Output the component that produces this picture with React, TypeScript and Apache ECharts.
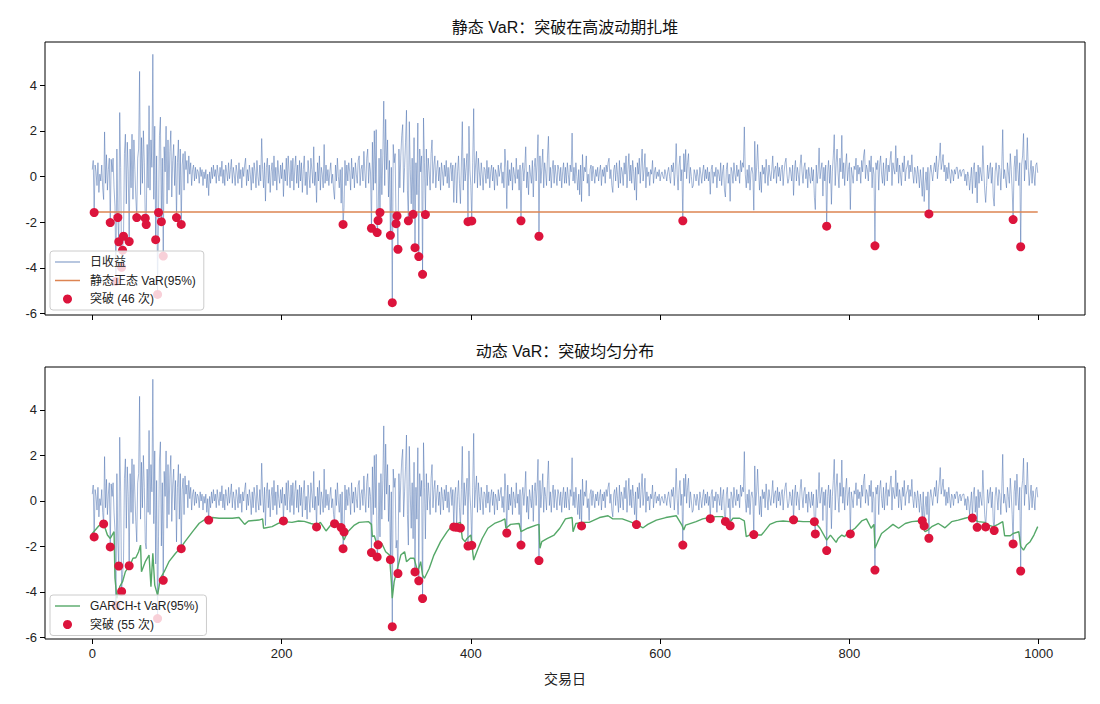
import React, { useEffect, useRef } from 'react';
import * as echarts from 'echarts';

// Daily returns, 10 trading days per row (row k = days 10k .. 10k+9)
const RETURN_ROWS: number[][] = [
  [0.3, 0.7, -1.58, 0.5, 0.2, -0.4, 0.6, -0.7, 0.1, -0.2],
  [0.5, -0.5, -1.01, 1.95, -0.3, 0.95, -0.6, 0.3, 0.8, -2.02],
  [0.75, 0.2, 0.8, -0.5, -1.3, -4.6, 1.2, -1.8, -2.86, 2.8],
  [0.4, -3.98, -3.23, -2.62, 1.0, 1.85, -1.2, 1.5, 0.2, -2.85],
  [1.2, -0.5, 1.85, -1.0, 1.6, 0.3, -0.9, -1.8, 0.8, 1.2],
  [4.6, -0.8, 1.7, -0.3, 2.0, 0.6, -1.83, -2.11, 1.4, -0.5],
  [3.1, -0.6, 1.6, 0.4, 5.35, -1.0, 2.2, -2.77, 0.9, -5.17],
  [-1.58, 1.8, 2.6, -1.98, 0.8, -3.49, 1.3, 0.2, 2.2, -1.2],
  [1.6, -0.6, 1.1, 2.0, -0.9, 0.7, 1.4, -0.4, 0.9, -1.8],
  [0.6, 1.6, -0.8, 1.2, -2.1, 0.5, 1.0, -0.6, 1.1, 0.3],
  [0.7, -0.3, 0.9, 0.1, 0.6, -0.4, 0.3, 0.5, -0.2, 0.4],
  [-0.1, 0.3, 0.2, -0.3, 0.4, 0.0, 0.3, -0.4, 0.2, -0.1],
  [0.3, -0.5, 0.1, -0.84, 0.2, -0.3, 0.4, -0.1, 0.5, 0.0],
  [0.3, -0.3, 0.5, 0.1, -0.2, 0.4, 0.0, 0.67, -0.3, 0.3],
  [-0.4, 0.5, 0.2, -0.2, 0.6, -0.1, 0.3, 0.75, -0.3, 0.4],
  [0.1, -0.4, 0.5, 0.2, -0.3, 0.6, -0.1, 0.3, -0.5, 0.4],
  [0.0, 0.5, 0.8, -0.4, 0.3, -0.2, 0.5, 0.1, -0.6, 0.4],
  [-0.3, 0.6, 0.2, -0.5, 0.7, 0.0, -0.4, 0.5, -0.2, 1.66],
  [0.3, -0.5, 0.6, -1.08, 0.4, 0.8, -0.3, 0.5, -0.7, 0.2],
  [0.6, -0.4, 0.9, -0.2, 0.4, -0.6, 0.7, 0.1, -0.3, 0.5],
  [-0.1, 0.6, -0.88, 0.3, -0.2, 0.8, -0.4, 0.9, 0.2, -0.5],
  [0.7, -0.2, 0.8, -0.6, 0.4, 0.9, -0.3, 0.5, -0.5, 0.7],
  [-0.2, 0.6, -0.7, 0.3, 0.9, -0.4, 0.2, -0.8, 0.7, 0.1],
  [-0.5, 0.8, 0.3, -0.3, 1.3, -0.4, 0.2, -1.14, 0.6, -0.2],
  [0.9, -0.6, 0.4, 0.1, -0.5, 1.4, -0.3, 0.5, -0.2, 0.3],
  [-0.4, 0.2, 0.6, -0.3, 0.1, -0.6, -1.0, 0.5, -0.2, 0.8],
  [0.0, -0.5, 0.3, -1.17, 0.4, -2.1, -1.36, 0.7, -0.4, 0.5],
  [-0.2, 0.6, 0.2, -0.6, 0.8, -0.1, 0.4, -0.5, 0.6, 0.1],
  [-0.3, 0.7, 0.9, -0.4, 0.3, 0.5, -0.2, 1.1, 0.2, -0.5],
  [0.8, 1.2, -0.3, 0.6, 0.2, -2.27, 1.5, -0.6, 2.0, -0.3],
  [2.05, -2.46, -1.93, 0.8, -1.58, 1.2, -0.8, 0.9, 3.3, -0.4],
  [2.5, 0.3, 1.6, -0.9, 0.7, -2.58, 0.4, -5.53, 1.4, 0.6],
  [1.0, -2.07, -1.73, -3.19, 1.2, -0.5, 0.9, 1.8, 2.27, -0.7],
  [0.4, 1.5, 2.9, -0.6, -1.94, 2.4, 0.3, -1.2, 0.8, -1.66],
  [1.7, -3.12, 0.6, -0.8, 2.34, -3.51, 1.2, 0.2, 0.9, -4.29],
  [2.56, 0.6, -1.67, 1.2, -0.4, 0.8, 0.2, -0.6, 1.0, 1.6],
  [-0.3, 0.5, 0.9, -0.5, 0.3, 0.7, -0.2, 0.4, -0.6, 0.6],
  [0.2, -0.4, 0.5, 0.0, 0.7, -0.3, 0.4, -0.5, 0.3, 0.6],
  [-0.2, 0.5, -1.14, 0.3, 0.6, -1.16, 0.2, 0.9, -0.3, -1.19],
  [0.5, 2.4, -0.6, 0.8, -0.2, 0.4, 1.0, -1.98, 2.2, 0.3],
  [-0.4, -1.95, 0.6, 2.97, -0.3, 0.5, 1.1, -0.5, 0.8, 0.2],
  [-0.4, 0.6, 0.1, -0.6, 0.4, 0.3, -0.3, 0.7, -0.1, 0.4],
  [-0.5, 0.2, 0.5, -0.2, 0.4, -0.6, 0.3, 0.1, -0.4, 0.5],
  [0.0, 0.3, 0.6, -0.3, 0.2, -0.5, 1.2, 0.4, -1.41, 0.7],
  [-0.4, 0.3, -0.2, 0.6, -0.6, 0.4, 0.1, -0.3, 0.8, -0.1],
  [0.3, -0.6, 0.5, -1.94, 0.2, 0.6, -0.2, 0.4, 1.3, -0.5],
  [0.2, -0.8, 0.5, 0.1, -0.3, 0.7, -0.9, 0.4, 0.8, -0.2],
  [0.6, 1.83, -2.62, 0.9, -0.3, 0.4, 1.2, -0.5, 0.6, 0.2],
  [-0.4, 0.9, 1.76, -0.2, 0.4, -0.5, 0.3, 0.7, -0.3, 0.5],
  [0.1, -0.4, 0.5, 0.3, -0.2, 0.4, -0.5, 0.2, 0.6, -0.3],
  [0.4, -0.3, 0.6, 0.1, -0.4, 0.5, 0.2, 1.9, -0.2, 0.4],
  [-0.3, 0.6, 0.0, -0.6, 0.3, -0.8, 0.5, -1.1, 0.96, -0.2],
  [0.4, 0.2, 0.9, -0.3, 0.1, -0.86, 0.3, 0.5, -0.2, 0.45],
  [0.1, -0.3, 0.3, 0.0, 0.4, -0.2, 0.2, 0.5, -0.4, 0.3],
  [0.0, 0.4, -0.3, 0.5, 0.2, 0.6, 0.8, -0.1, 0.3, -0.4],
  [-0.7, 0.3, 0.5, -0.2, 0.6, 0.1, -0.5, 0.7, -0.3, 0.4],
  [0.2, -0.4, 0.6, 0.1, 0.9, -0.5, 0.3, 1.0, -0.2, 0.5],
  [-0.3, 0.7, 0.2, -0.6, 0.4, -1.04, 0.6, 0.1, 0.8, -0.3],
  [0.5, 1.2, -0.2, 0.3, 1.0, -0.5, 0.4, 0.0, 0.2, -0.4],
  [0.3, 0.1, 0.7, -0.3, 0.2, 0.4, -0.1, 0.2, 0.0, 0.3],
  [-0.2, 0.1, 0.2, 0.0, -0.1, 0.3, 0.1, -0.2, 0.2, 0.4],
  [0.0, -0.3, 0.5, 0.2, 0.6, -0.4, 0.3, 1.44, 0.1, -0.6],
  [0.45, 0.9, -0.2, 0.3, -1.94, 1.0, 0.2, 1.18, -0.1, 0.6],
  [1.0, -0.3, 0.4, 0.0, -0.5, -0.4, 0.3, 0.1, -0.2, 0.3],
  [0.0, -0.4, 0.4, 0.1, -0.3, 0.2, 0.5, -0.2, 0.3, -0.1],
  [0.4, -0.2, 0.2, -0.78, 0.3, 0.5, -0.3, 0.2, 0.0, 0.4],
  [-0.5, 0.3, 0.1, -0.2, 0.6, -0.4, 0.2, 0.5, -0.6, -0.9],
  [0.3, 0.6, -0.3, 0.1, -1.09, 0.4, 0.2, -0.3, 0.6, 0.1],
  [-0.2, 0.5, 0.0, 0.3, -0.3, 0.7, 0.2, 0.6, 0.4, 2.17],
  [0.1, -0.5, 0.3, -0.3, 0.5, -0.6, 0.2, 0.4, 0.1, -1.48],
  [1.54, -0.2, 0.4, 1.4, 0.3, -0.6, 0.2, -0.7, 0.5, 0.1],
  [0.4, -0.3, 0.75, 0.2, -0.4, 0.5, 0.1, -0.2, 0.3, 0.9],
  [-0.1, 0.3, 0.45, -0.3, 0.6, 0.0, 0.4, -0.2, 0.3, 0.5],
  [-0.4, 0.2, 0.6, 0.8, 0.1, -0.3, -0.1, 0.4, 0.2, -0.2],
  [0.5, -0.83, 0.3, 0.7, -0.2, 0.4, 0.1, -0.4, 0.5, 0.95],
  [0.2, -0.3, 0.4, 0.6, -0.1, 0.3, -0.5, 0.4, 0.0, -0.3],
  [0.4, -0.2, 0.3, -0.91, -1.45, 0.5, -0.3, 0.2, 1.25, -0.1],
  [0.3, 0.6, -0.86, 0.4, -0.2, 0.5, -2.18, 0.2, 0.7, -0.3],
  [0.5, -1.22, 0.2, 0.9, 1.83, -0.4, 0.6, 1.2, 0.16, -0.5],
  [0.8, 0.2, 1.8, -0.1, 0.6, -0.4, 0.5, 1.0, -0.2, 0.3],
  [0.6, -1.45, 0.4, 0.1, -0.3, 0.45, 0.3, 0.8, -0.2, 0.5],
  [0.1, 0.4, -0.3, 0.7, 0.2, 0.9, 1.18, -0.1, 0.5, 0.3],
  [-0.2, 0.7, 0.2, 0.9, -0.5, 0.4, 0.1, -3.04, 0.6, 0.3],
  [0.7, -0.6, 0.5, 0.9, 0.1, -0.3, 0.6, -0.4, 0.3, 0.8],
  [-0.2, 0.5, 0.2, 0.7, 1.1, -0.4, 0.6, 0.3, 0.1, 1.35],
  [0.2, 0.8, -0.3, 0.5, 0.1, -0.4, 0.6, 0.2, 0.9, -0.2],
  [0.3, 0.45, 0.7, -0.1, 0.5, 0.2, 0.95, 0.1, -0.3, 0.4],
  [0.2, -0.3, 0.45, 0.1, -0.5, 0.3, -0.2, -0.87, 0.4, -1.1],
  [-0.3, 0.2, -0.6, 0.4, -1.64, 0.1, 0.5, 0.16, -0.2, 0.3],
  [0.6, 0.2, 0.9, -0.1, 0.4, 0.8, 1.47, 0.3, 0.6, 0.96],
  [0.2, 0.5, -0.2, 0.4, -0.1, 0.6, 0.1, -0.3, 0.3, 0.2],
  [-0.2, 0.3, 0.1, 0.4, 0.4, -0.1, 0.2, 0.3, 0.0, 0.2],
  [0.3, 0.3, -0.2, 0.1, -0.4, 0.2, 0.0, -0.6, -0.1, 0.4],
  [-0.75, 0.3, 0.6, -0.5, 0.2, -1.16, 0.5, -0.3, 0.4, 0.1],
  [-0.2, 1.35, 0.3, -0.6, -1.14, -0.4, 0.5, -0.1, 0.3, 0.6],
  [-0.3, 0.4, -0.9, -1.3, 0.2, 0.6, 0.16, -0.4, 0.5, 0.3],
  [-0.6, 0.4, 2.05, -0.1, 0.3, -0.1, -0.5, 0.6, 0.2, -0.3],
  [1.0, 0.3, -0.6, -1.89, 0.4, 0.9, -0.2, 1.18, 0.3, -0.4],
  [0.6, -3.08, 0.5, 0.9, 1.88, -0.2, 0.7, 0.3, 1.7, 0.4],
  [-0.4, 0.2, 0.7, -0.3, 0.45, 0.1, -0.4, 0.5, 0.6, 0.16],
];

const RETURNS: number[] = RETURN_ROWS.flat();

const STATIC_VAR = -1.56;

// GARCH-t VaR(95%) path: [trading day, VaR]
const GARCH_VAR: [number, number][] = [
  [0, -1.43], [7, -1.09], [12, -1.0], [16, -1.5], [19, -1.65], [23, -1.35], [24, -3.4], [26, -4.28],
  [29, -3.77], [32, -3.55], [35, -3.11], [40, -2.82], [43, -2.52], [46, -2.5], [49, -2.23], [51, -1.94],
  [52, -3.11], [56, -2.67], [60, -2.38], [62, -3.77], [64, -2.3], [66, -3.7], [69, -4.14], [72, -3.4],
  [76, -3.11], [81, -2.67], [88, -2.3], [93, -2.08], [98, -1.79], [106, -1.35], [113, -0.98], [120, -0.79],
  [127, -0.73], [134, -0.76], [148, -0.76], [155, -0.73], [161, -1.03], [165, -0.88], [176, -0.84], [180, -0.79],
  [181, -1.2], [190, -1.13], [197, -0.98], [203, -0.91], [211, -0.94], [218, -0.88], [224, -0.9], [231, -0.99],
  [238, -1.06], [241, -0.94], [247, -1.32], [252, -1.06], [257, -0.91], [262, -1.03], [264, -1.5], [266, -1.72],
  [270, -1.35], [277, -1.06], [282, -0.94], [292, -0.91], [295, -1.03], [296, -1.57], [298, -1.53], [301, -1.94],
  [306, -1.87], [310, -2.23], [314, -2.38], [316, -3.55], [317, -4.28], [319, -3.55], [322, -3.04], [326, -2.38],
  [330, -2.23], [332, -2.67], [336, -2.52], [340, -2.52], [342, -2.82], [344, -3.11], [347, -2.67], [349, -3.26],
  [351, -3.4], [356, -2.97], [361, -2.38], [368, -1.79], [375, -1.35], [380, -1.09], [386, -0.99], [389, -0.94],
  [391, -1.65], [394, -1.79], [396, -1.65], [400, -1.5], [403, -2.6], [407, -2.16], [412, -1.65], [418, -1.2],
  [425, -0.99], [432, -0.88], [436, -0.79], [437, -1.2], [442, -1.03], [451, -0.99], [453, -1.35], [460, -1.2],
  [469, -1.06], [472, -1.03], [473, -2.08], [475, -1.79], [481, -1.65], [488, -1.5], [494, -1.2], [500, -0.79],
  [507, -0.73], [508, -1.35], [511, -0.99], [518, -0.94], [525, -0.94], [536, -0.73], [545, -0.65], [550, -0.79],
  [560, -0.79], [568, -0.91], [575, -1.03], [582, -1.18], [587, -1.03], [596, -0.84], [606, -0.73], [617, -0.65],
  [623, -1.06], [625, -1.28], [627, -1.06], [638, -0.91], [645, -0.79], [652, -0.73], [659, -0.69], [666, -0.69],
  [668, -0.84], [672, -1.03], [677, -0.76], [684, -0.76], [689, -0.88], [691, -1.57], [696, -1.47], [702, -1.5],
  [707, -1.5], [710, -1.35], [716, -1.03], [723, -0.91], [730, -0.88], [737, -0.91], [744, -0.88], [751, -0.91],
  [760, -0.91], [765, -1.0], [769, -1.2], [776, -1.72], [780, -1.5], [786, -1.82], [788, -1.65], [792, -1.5],
  [795, -1.57], [799, -1.35], [801, -1.35], [806, -1.2], [813, -0.88], [818, -0.79], [823, -1.2], [826, -1.03],
  [827, -2.08], [830, -1.79], [834, -1.43], [841, -1.2], [846, -1.03], [852, -1.2], [859, -0.99], [866, -0.91],
  [873, -0.88], [876, -1.06], [880, -1.35], [883, -1.28], [887, -1.13], [894, -0.99], [901, -1.18], [908, -0.91],
  [915, -0.84], [922, -0.76], [929, -0.69], [933, -0.84], [936, -0.91], [943, -0.94], [947, -1.06], [952, -1.13],
  [957, -1.03], [962, -0.91], [964, -1.53], [970, -1.53], [973, -1.43], [979, -1.35], [981, -2.0], [984, -2.16],
  [987, -1.94], [991, -1.79], [995, -1.5], [999, -1.13],
];

// Days whose return fell below the GARCH-t VaR
const GARCH_BREACH_DAYS: number[] = [
  2, 12, 19, 25, 28, 31, 39, 69, 75, 94, 123, 202, 237, 256, 263, 265, 266, 295, 301, 302,
  315, 317, 323, 341, 345, 349, 382, 385, 389, 397, 401, 438, 453, 472, 517, 575, 624, 653,
  669, 674, 699, 741, 763, 764, 776, 801, 827, 877, 879, 884, 930, 935, 944, 953, 973, 981,
];

const X_TICKS = [0, 200, 400, 600, 800, 1000];
const Y_TICKS = [-6, -4, -2, 0, 2, 4];

const TITLE_TOP = '静态 VaR：突破在高波动期扎堆';
const TITLE_BOTTOM = '动态 VaR：突破均匀分布';
const X_NAME = '交易日';
const NAME_RETURN = '日收益';
const NAME_STATIC = '静态正态 VaR(95%)';
const NAME_STATIC_BREACH = '突破 (46 次)';
const NAME_GARCH = 'GARCH-t VaR(95%)';
const NAME_GARCH_BREACH = '突破 (55 次)';

const FONT = '"Liberation Sans", "Noto Sans CJK SC", sans-serif';
const C_RET = '#4c72b0';
const C_STATIC = '#dd8452';
const C_GARCH = '#55a868';
const C_BREACH = '#dc143c';

export default function App() {
  const ref = useRef<HTMLDivElement>(null);

  useEffect(() => {
    if (!ref.current) return;
    const chart = echarts.init(ref.current, null, { renderer: 'svg' });

    const retData = RETURNS.map((v, i) => [i, v]);
    const lastDay = RETURNS.length - 1;
    const staticBreaches = RETURNS.map((v, i) => [i, v]).filter((p) => p[1] < STATIC_VAR);
    const garchBreaches = GARCH_BREACH_DAYS.map((d) => [d, RETURNS[d]]);

    const xAxisBase = (gridIndex: number, showLabel: boolean) => ({
      type: 'value',
      gridIndex,
      min: -49.95,
      max: 1048.95,
      axisLine: { show: false, onZero: false },
      splitLine: { show: false },
      axisTick: { show: true, length: 5, customValues: X_TICKS, lineStyle: { color: '#000', width: 1 } },
      axisLabel: {
        show: showLabel,
        customValues: X_TICKS,
        formatter: (v: number) => String(v),
        fontSize: 13,
        color: '#222',
        fontFamily: FONT,
        margin: 8,
      },
      ...(showLabel
        ? {
            name: X_NAME,
            nameLocation: 'middle',
            nameGap: 33,
            nameTextStyle: { fontSize: 14, color: '#222', fontFamily: FONT },
          }
        : {}),
    });

    const yAxisBase = (gridIndex: number) => ({
      type: 'value',
      gridIndex,
      min: -6.07,
      max: 5.89,
      axisLine: { show: false, onZero: false },
      splitLine: { show: false },
      axisTick: { show: true, length: 5, customValues: Y_TICKS, lineStyle: { color: '#000', width: 1 } },
      axisLabel: {
        customValues: Y_TICKS,
        formatter: (v: number) => String(v),
        fontSize: 13,
        color: '#222',
        fontFamily: FONT,
        margin: 8,
      },
    });

    const legendBase = {
      orient: 'vertical',
      left: 50,
      itemWidth: 25,
      itemHeight: 9,
      itemGap: 6.5,
      padding: [5, 8, 5, 5],
      backgroundColor: 'rgba(255,255,255,0.8)',
      borderColor: '#cccccc',
      borderWidth: 1,
      borderRadius: 3,
      textStyle: { fontSize: 12, color: '#222', fontFamily: FONT, padding: [0, 0, 0, 5] },
      selectedMode: false,
    };

    const option: any = {
      animation: false,
      backgroundColor: '#ffffff',
      textStyle: { fontFamily: FONT },
      grid: [
        { left: 45, right: 15, top: 42, height: 273, show: true, borderColor: '#000', borderWidth: 1, backgroundColor: 'transparent' },
        { left: 45, right: 15, top: 367, height: 272, show: true, borderColor: '#000', borderWidth: 1, backgroundColor: 'transparent' },
      ],
      xAxis: [xAxisBase(0, false), xAxisBase(1, true)],
      yAxis: [yAxisBase(0), yAxisBase(1)],
      legend: [
        {
          ...legendBase,
          top: 251,
          data: [
            { name: NAME_RETURN, icon: 'path://M0,0H25V0.8H0Z' },
            { name: NAME_STATIC, icon: 'path://M0,0H25V1.5H0Z' },
            { name: NAME_STATIC_BREACH, icon: 'circle' },
          ],
        },
        {
          ...legendBase,
          top: 595,
          data: [
            { name: NAME_GARCH, icon: 'path://M0,0H25V1.4H0Z' },
            { name: NAME_GARCH_BREACH, icon: 'circle' },
          ],
        },
      ],
      graphic: [
        {
          type: 'text',
          x: 565,
          y: 27,
          style: { text: TITLE_TOP, fontSize: 16, fill: '#111', fontFamily: FONT, textAlign: 'center', textVerticalAlign: 'middle' },
        },
        {
          type: 'text',
          x: 565,
          y: 351,
          style: { text: TITLE_BOTTOM, fontSize: 16, fill: '#111', fontFamily: FONT, textAlign: 'center', textVerticalAlign: 'middle' },
        },
      ],
      series: [
        {
          name: NAME_RETURN,
          type: 'line',
          xAxisIndex: 0,
          yAxisIndex: 0,
          data: retData,
          symbol: 'none',
          showSymbol: false,
          lineStyle: { color: C_RET, width: 0.7, opacity: 0.75 },
          itemStyle: { color: C_RET },
          z: 2,
        },
        {
          name: NAME_STATIC,
          type: 'line',
          xAxisIndex: 0,
          yAxisIndex: 0,
          data: [[0, STATIC_VAR], [lastDay, STATIC_VAR]],
          symbol: 'none',
          showSymbol: false,
          lineStyle: { color: C_STATIC, width: 1.5 },
          itemStyle: { color: C_STATIC },
          z: 2,
        },
        {
          name: NAME_STATIC_BREACH,
          type: 'scatter',
          xAxisIndex: 0,
          yAxisIndex: 0,
          data: staticBreaches,
          symbolSize: 9,
          itemStyle: { color: C_BREACH, opacity: 1 },
          z: 3,
        },
        {
          name: NAME_RETURN,
          type: 'line',
          xAxisIndex: 1,
          yAxisIndex: 1,
          data: retData,
          symbol: 'none',
          showSymbol: false,
          lineStyle: { color: C_RET, width: 0.7, opacity: 0.75 },
          itemStyle: { color: C_RET },
          z: 2,
        },
        {
          name: NAME_GARCH,
          type: 'line',
          xAxisIndex: 1,
          yAxisIndex: 1,
          data: GARCH_VAR,
          symbol: 'none',
          showSymbol: false,
          lineStyle: { color: C_GARCH, width: 1.4 },
          itemStyle: { color: C_GARCH },
          z: 2,
        },
        {
          name: NAME_GARCH_BREACH,
          type: 'scatter',
          xAxisIndex: 1,
          yAxisIndex: 1,
          data: garchBreaches,
          symbolSize: 9,
          itemStyle: { color: C_BREACH, opacity: 1 },
          z: 3,
        },
      ],
    };

    chart.setOption(option);
    return () => chart.dispose();
  }, []);

  return (
    <div
      ref={ref}
      style={{ position: 'fixed', left: 0, top: 0, width: 1100, height: 704, background: '#fff' }}
    />
  );
}
